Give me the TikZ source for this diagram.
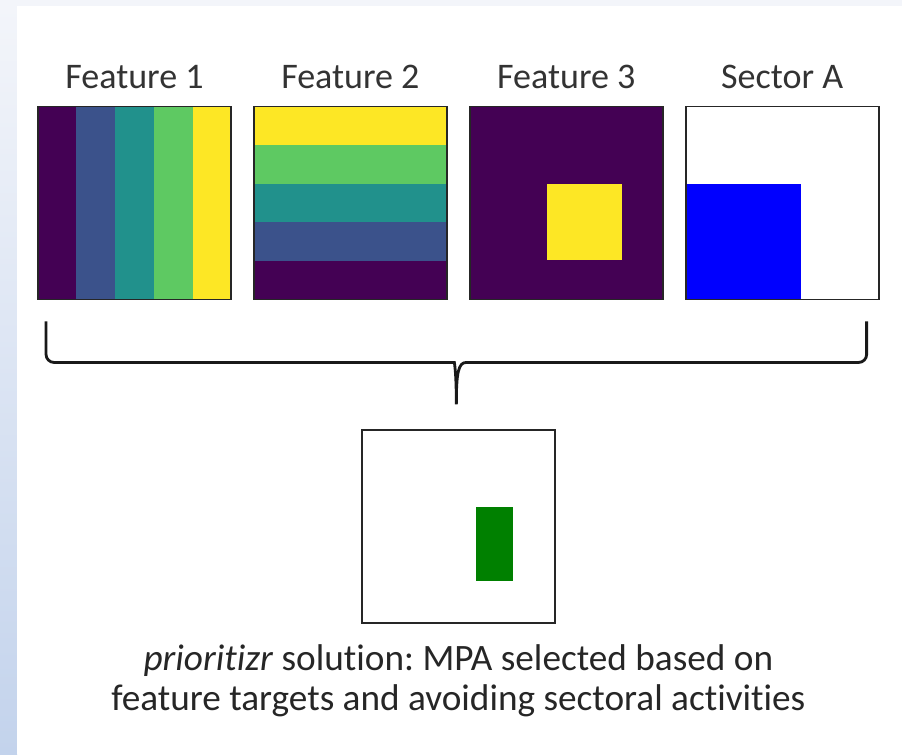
\documentclass[tikz,border=0pt]{standalone}
\usepackage{fontspec}
\setmainfont[Ligatures=NoCommon]{Carlito}
\usepackage{tikz}
\usetikzlibrary{positioning,backgrounds,calc}
\definecolor{vpurple}{RGB}{68,1,84}
\definecolor{vblue}{RGB}{59,82,139}
\definecolor{vteal}{RGB}{33,145,140}
\definecolor{vgreen}{RGB}{94,201,98}
\definecolor{vyellow}{RGB}{253,231,37}
\definecolor{slidetop}{RGB}{243,245,250}
\definecolor{slideside}{RGB}{195,211,236}
\definecolor{mpagreen}{RGB}{0,128,0}
\tikzstyle{panel} = [rectangle, minimum width=3.86cm, minimum height=3.86cm, inner sep=0pt, draw=black!85, line width=1.1pt]
\tikzstyle{title} = [font=\fontsize{20.5}{24}\selectfont, anchor=base, text=black!80]
\tikzstyle{caption} = [font=\fontsize{21.2}{22.8}\selectfont, align=center, inner sep=0pt, text=black!85]
\tikzstyle{bracepath} = [line width=1.6pt, black!90]
\frenchspacing

\begin{document}
\begin{tikzpicture}[x=0.02cm, y=-0.02cm]
\useasboundingbox (0,0) rectangle (902,754);
% slide background
\begin{pgfonlayer}{background}
\fill[slidetop] (0,0) rectangle (902,754);
\shade[top color=slidetop, bottom color=slideside] (0,6) rectangle (17,754);
\fill[white] (17,6) rectangle (902,754);
\end{pgfonlayer}

\node (f1) [panel] at (134.5,203) {};
\node (f2) [panel, right=0.42cm of f1] {};
\node (f3) [panel, right=0.42cm of f2] {};
\node (sa) [panel, right=0.42cm of f3] {};

\node (t1) [title] at ([yshift=0.35cm]f1.north) {Feature 1};
\node (t2) [title] at ([yshift=0.35cm]f2.north) {Feature 2};
\node (t3) [title] at ([yshift=0.35cm]f3.north) {Feature 3};
\node (t4) [title] at ([yshift=0.35cm]sa.north) {Sector A};

% layers of the panels
\begin{pgfonlayer}{background}
\foreach \c [count=\j] in {vpurple,vblue,vteal,vgreen,vyellow}
  \fill[\c] ($(f1.north west)!{(\j-1)/5}!(f1.north east)$) rectangle ($(f1.south west)!{\j/5}!(f1.south east)$);
\foreach \c [count=\j] in {vyellow,vgreen,vteal,vblue,vpurple}
  \fill[\c] ($(f2.north west)!{(\j-1)/5}!(f2.south west)$) rectangle ($(f2.north east)!{\j/5}!(f2.south east)$);
\fill[vpurple] (f3.north west) rectangle (f3.south east);
\fill[vyellow] ($(f3.north west)+(78,78)$) rectangle +(75,76);
\fill[blue] (sa.south west) rectangle +(116,-116);
\end{pgfonlayer}

% brace
\coordinate (bl) at ([xshift=0.18cm,yshift=-0.42cm]f1.south west);
\coordinate (br) at ([xshift=-0.26cm,yshift=-0.42cm]sa.south east);
\coordinate (tip) at ($(bl)!0.5!(br)+(0,83)$);
\draw[bracepath] (bl) [rounded corners=0.16cm] |- ($(tip)+(-10,-42)$) [sharp corners]
  .. controls +(8,0) and +(0,-32) .. (tip)
  .. controls +(0,-32) and +(-8,0) .. ($(tip)+(10,-42)$) [rounded corners=0.16cm] -| (br);

\node (sol) [panel, below=0.5cm of tip, xshift=0.04cm] {};
\fill[mpagreen] ($(sol.north west)+(115,78)$) rectangle +(37,74);

\node (cap) [caption, below=0.4cm of sol] {\textit{prioritizr} solution: MPA selected based on\\feature targets and avoiding sectoral activities};
\end{tikzpicture}
\end{document}
